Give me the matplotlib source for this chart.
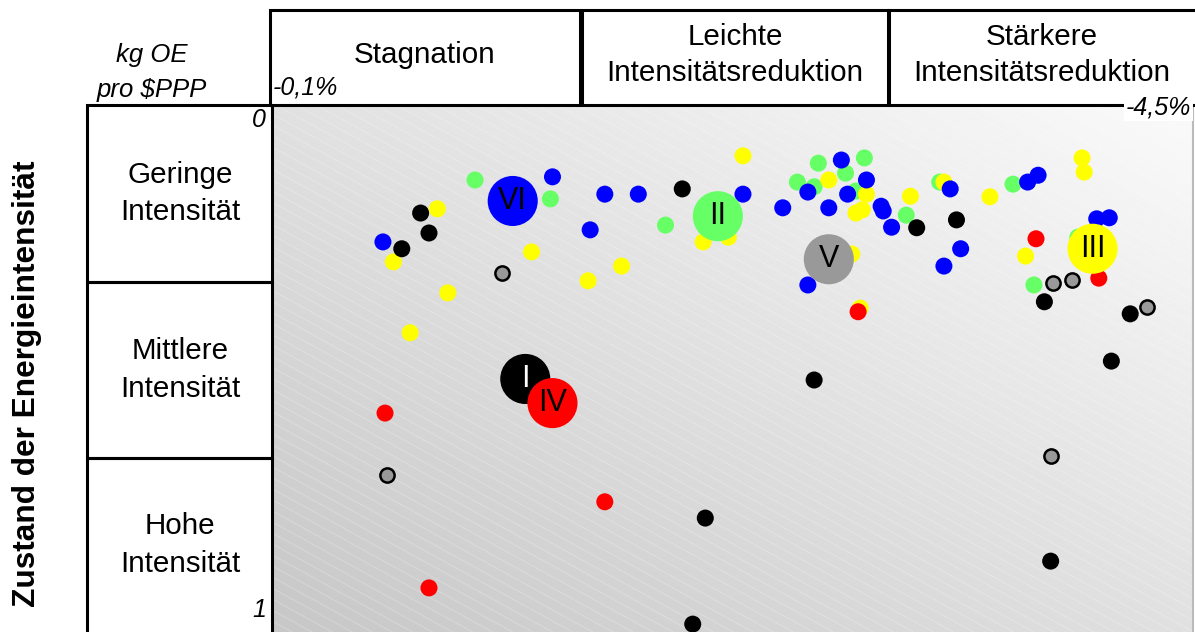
import numpy as np
import matplotlib
matplotlib.use('Agg')
import matplotlib.pyplot as plt
from matplotlib.patches import Rectangle

plt.rcParams['font.family'] = ['Liberation Sans', 'DejaVu Sans']

# x: average annual change of energy intensity (%), y: normalised intensity state (0 = low, 1 = high)
blue_x = [-0.63, -1.44, -1.62, -1.69, -1.85, -2.35, -2.66, -2.82, -2.94, -2.66, -2.85, -2.54,
          -2.76, -3.01, -3.02, -3.06, -3.34, -3.39, -3.31, -3.71, -3.76, -4.04, -4.10]
blue_y = [0.257, 0.133, 0.234, 0.166, 0.166, 0.166, 0.339, 0.101, 0.139, 0.162, 0.166, 0.192,
          0.192, 0.189, 0.198, 0.229, 0.156, 0.270, 0.303, 0.143, 0.130, 0.213, 0.211]

green_x = [-1.07, -1.43, -1.98, -2.61, -2.71, -2.93, -2.84, -2.69, -2.89, -3.13, -3.29, -3.64,
           -3.95, -3.74]
green_y = [0.139, 0.175, 0.225, 0.143, 0.107, 0.097, 0.126, 0.152, 0.160, 0.206, 0.143, 0.147,
           0.248, 0.339]

yellow_x = [-0.89, -0.68, -1.34, -0.94, -1.61, -1.77, -0.76, -2.35, -2.16, -2.28, -2.76, -2.94,
            -2.89, -2.92, -2.87, -2.91, -3.15, -3.31, -3.53, -3.97, -3.98, -3.70]
yellow_y = [0.194, 0.295, 0.276, 0.354, 0.331, 0.303, 0.430, 0.093, 0.257, 0.248, 0.139, 0.166,
            0.202, 0.196, 0.280, 0.383, 0.170, 0.143, 0.171, 0.097, 0.124, 0.284]

black_x = [-0.81, -0.85, -0.72, -2.06, -3.18, -3.37, -3.79, -4.20, -4.11, -2.69, -2.17, -3.82, -2.11]
black_y = [0.202, 0.240, 0.270, 0.156, 0.230, 0.215, 0.371, 0.394, 0.484, 0.520, 0.783, 0.865, 0.985]

red_x = [-0.64, -1.69, -0.85, -2.90, -3.75, -4.05]
red_y = [0.583, 0.752, 0.916, 0.390, 0.251, 0.326]

gray_x = [-1.20, -0.65, -3.83, -3.92, -4.28, -3.82]
gray_y = [0.316, 0.701, 0.335, 0.330, 0.381, 0.665]

# cluster centres
cl_labels = ['VI', 'II', 'V', 'III', 'I', 'IV']
cl_x = [-1.25, -2.23, -2.76, -4.02, -1.31, -1.44]
cl_y = [0.179, 0.208, 0.290, 0.270, 0.518, 0.564]
cl_colors = ['#0000FF', '#66FF66', '#999999', '#FFFF00', '#000000', '#FF0000']

col_titles = ['Stagnation', 'Leichte\nIntensitätsreduktion', 'Stärkere\nIntensitätsreduktion']
row_titles = ['Geringe\nIntensität', 'Mittlere\nIntensität', 'Hohe\nIntensität']

W, H = 1195, 632
fig = plt.figure(figsize=(W / 100, H / 100), dpi=100)


def fx(px):
    return px / W


def fy(py):
    return 1 - py / H


ax = fig.add_axes([fx(272), fy(632), (1193 - 272) / W, (632 - 107) / H])
ax.set_xlim(-0.1, -4.5)
ax.set_ylim(1, 0)
ax.set_xticks([])
ax.set_yticks([])
for s in ax.spines.values():
    s.set_visible(False)
ax.spines['right'].set_visible(True)
ax.spines['right'].set_color('#bbbbbb')
ax.spines['right'].set_linewidth(1.5)

# gradient background
n = 200
u = np.linspace(0, 1, n)[None, :]
v = np.linspace(1, 0, n)[:, None]
grad = 0.78 + 0.2 * (u + v) / 2
ax.imshow(grad, extent=(-0.1, -4.5, 1, 0), aspect='auto', cmap='gray', vmin=0, vmax=1,
          zorder=0, interpolation='bilinear')
# faint diagonal stripes
for c in np.arange(0, 2.0, 0.021):
    ax.plot([0, 1.2], [c, c - 0.965 * 1.2], transform=ax.transAxes, color='white',
            alpha=0.28, lw=0.6, zorder=1)

ms = 150
ax.scatter(green_x, green_y, s=ms, c='#66FF66', edgecolors='none', zorder=3)
ax.scatter(yellow_x, yellow_y, s=ms, c='#FFFF00', edgecolors='none', zorder=3)
ax.scatter(blue_x, blue_y, s=ms, c='#0000FF', edgecolors='none', zorder=3)
ax.scatter(black_x, black_y, s=ms, c='#000000', edgecolors='none', zorder=3)
ax.scatter(red_x, red_y, s=ms, c='#FF0000', edgecolors='none', zorder=3)
ax.scatter(gray_x, gray_y, s=105, c='#999999', edgecolors='black', linewidths=1.8, zorder=3)

for lab, x, y, c in zip(cl_labels, cl_x, cl_y, cl_colors):
    ax.scatter([x], [y], s=1300, c=c, edgecolors='none', zorder=4)
    ax.text(x, y, lab, ha='center', va='center', fontsize=22,
            color='white' if lab == 'I' else 'black', zorder=5)

# header boxes
lw = 2.2
col_edges = [(270, 580), (582, 888), (889, 1200)]
for (x0, x1), t in zip(col_edges, col_titles):
    fig.patches.append(Rectangle((fx(x0), fy(105)), fx(x1) - fx(x0), fy(10) - fy(105),
                                 transform=fig.transFigure, fill=False, ec='black', lw=lw))
    fig.text(fx((x0 + min(x1, 1195)) / 2), fy(55), t, ha='center', va='center',
             fontsize=21.3, linespacing=1.4)

# row boxes
row_edges = [(105, 282), (282, 458), (458, 640)]
for (y0, y1), t in zip(row_edges, row_titles):
    fig.patches.append(Rectangle((fx(87), fy(y1)), fx(272) - fx(87), fy(y0) - fy(y1),
                                 transform=fig.transFigure, fill=False, ec='black', lw=lw))
    fig.text(fx(180), fy((y0 + min(y1, 632)) / 2 + 0), t, ha='center', va='center',
             fontsize=21.3, linespacing=1.45)

fig.text(fx(152), fy(55), 'kg OE', ha='center', va='center', fontsize=18.5, style='italic')
fig.text(fx(152), fy(90), 'pro $PPP', ha='center', va='center', fontsize=18.5, style='italic')
fig.text(fx(273), fy(88), '-0,1%', ha='left', va='center', fontsize=18, style='italic')
fig.text(fx(1191), fy(107), '-4,5%', ha='right', va='center', fontsize=18, style='italic',
         bbox=dict(facecolor='white', edgecolor='none', pad=1))
fig.text(fx(266), fy(120), '0', ha='right', va='center', fontsize=18, style='italic')
fig.text(fx(266), fy(610), '1', ha='right', va='center', fontsize=18, style='italic')

fig.text(fx(27), fy(384), 'Zustand der Energieintensität', rotation=90, ha='center', va='center',
         fontsize=22.8, fontweight='bold')

plt.savefig('out.png', dpi=100)
